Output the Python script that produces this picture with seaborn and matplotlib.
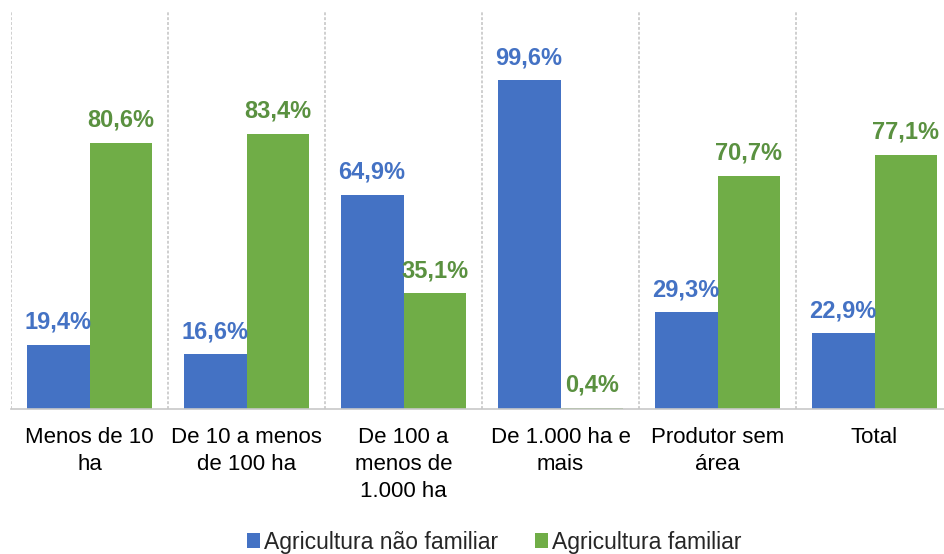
import matplotlib
matplotlib.use("Agg")
import matplotlib.pyplot as plt
import seaborn as sns
import pandas as pd

categories = ["Menos de 10\nha", "De 10 a menos\nde 100 ha", "De 100 a\nmenos de\n1.000 ha",
              "De 1.000 ha e\nmais", "Produtor sem\nárea", "Total"]
nao_familiar = [19.4, 16.6, 64.9, 99.6, 29.3, 22.9]
familiar = [80.6, 83.4, 35.1, 0.4, 70.7, 77.1]
series = ["Agricultura não familiar", "Agricultura familiar"]

bar_colors = ["#4472C4", "#70AD47"]
label_colors = ["#4472C4", "#5A9140"]

df = pd.DataFrame({
    "cat": categories * 2,
    "serie": [series[0]] * len(categories) + [series[1]] * len(categories),
    "valor": nao_familiar + familiar,
})

sns.set_theme(style="white")
plt.rcParams["font.family"] = ["Liberation Sans", "DejaVu Sans"]

W, H = 944, 554
fig = plt.figure(figsize=(W / 100, H / 100), dpi=100)
ax = fig.add_axes([11 / W, 1 - 409 / H, 942 / W, (409 - 12) / H])

sns.barplot(data=df, x="cat", y="valor", hue="serie", palette=bar_colors,
            order=categories, hue_order=series, width=0.8, saturation=1,
            linewidth=0, ax=ax, legend=True)

ax.set_ylim(0, 120.3)
ax.set_xlim(-0.5, 5.5)
ax.set_xlabel("")
ax.set_ylabel("")
ax.set_yticks([])
ax.tick_params(axis="x", length=0, labelsize=16, colors="#000000", pad=13)
for lab in ax.get_xticklabels():
    lab.set_linespacing(1.36)

for s in ["top", "right", "left"]:
    ax.spines[s].set_visible(False)
ax.spines["bottom"].set_color("#c8c8c8")
ax.spines["bottom"].set_linewidth(1.2)

for i in range(len(categories)):
    ax.axvline(i - 0.5, color="#cfcfcf", linestyle=(0, (1.5, 1)), linewidth=1.4, zorder=0)

for ci, cont in enumerate(ax.containers):
    vals = [nao_familiar, familiar][ci]
    labels = [f"{v:.1f}%".replace(".", ",") for v in vals]
    ax.bar_label(cont, labels=labels, padding=8, fontsize=17, fontweight="bold",
                 color=label_colors[ci])

handles, labs = ax.get_legend_handles_labels()
ax.legend(handles, labs, loc="center", bbox_to_anchor=(494 / W, 1 - 542 / H),
          bbox_transform=fig.transFigure, ncol=2, frameon=False, fontsize=16.5,
          handlelength=0.6, handleheight=0.6, handletextpad=0.15, columnspacing=1.6)

fig.savefig("out.png", dpi=100)
